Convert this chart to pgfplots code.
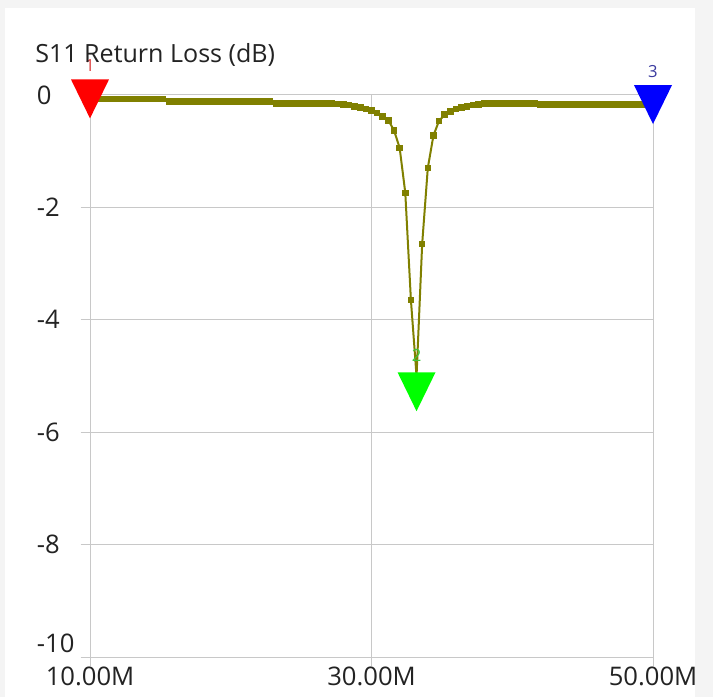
\documentclass[border=0pt]{standalone}
\usepackage{pgfplots}
\pgfplotsset{compat=1.18}
\usepackage{fontspec}
\setmainfont{Open Sans}
\definecolor{olivec}{RGB}{128,128,0}
\definecolor{gridc}{RGB}{200,200,200}
\definecolor{bgc}{RGB}{244,244,244}
\definecolor{txt}{RGB}{35,35,35}
\definecolor{lab1}{RGB}{220,60,60}
\definecolor{lab3}{RGB}{60,60,160}
\definecolor{lab2}{RGB}{60,200,60}
\pgfdeclareplotmark{dtri}{%
 \pgfpathmoveto{\pgfqpoint{-14.25pt}{14.6pt}}%
 \pgfpathlineto{\pgfqpoint{14.25pt}{14.6pt}}%
 \pgfpathlineto{\pgfqpoint{0pt}{-14.6pt}}%
 \pgfpathclose\pgfusepathqfill}
\pgfplotstableread{
x y
10.0 -0.07
10.4 -0.07
10.8 -0.07
11.2 -0.07
11.6 -0.07
12.0 -0.07
12.4 -0.07
12.8 -0.07
13.2 -0.07
13.6 -0.07
14.0 -0.07
14.4 -0.07
14.8 -0.07
15.2 -0.07
15.6 -0.12
16.0 -0.12
16.4 -0.12
16.8 -0.12
17.2 -0.12
17.6 -0.12
18.0 -0.12
18.4 -0.12
18.8 -0.12
19.2 -0.12
19.6 -0.12
20.0 -0.12
20.4 -0.12
20.8 -0.12
21.2 -0.12
21.6 -0.12
22.0 -0.12
22.4 -0.12
22.8 -0.12
23.2 -0.15
23.6 -0.15
24.0 -0.15
24.4 -0.15
24.8 -0.15
25.2 -0.15
25.6 -0.15
26.0 -0.15
26.4 -0.15
26.8 -0.15
27.2 -0.15
27.6 -0.16
28.0 -0.17
28.4 -0.18
28.8 -0.20
29.2 -0.22
29.6 -0.25
30.0 -0.28
30.4 -0.32
30.8 -0.38
31.2 -0.45
31.6 -0.63
32.0 -0.94
32.4 -1.74
32.8 -3.65
33.2 -5.00
33.6 -2.65
34.0 -1.30
34.4 -0.72
34.8 -0.46
35.2 -0.35
35.6 -0.29
36.0 -0.25
36.4 -0.22
36.8 -0.20
37.2 -0.18
37.6 -0.17
38.0 -0.15
38.4 -0.15
38.8 -0.15
39.2 -0.15
39.6 -0.15
40.0 -0.15
40.4 -0.15
40.8 -0.15
41.2 -0.15
41.6 -0.15
42.0 -0.17
42.4 -0.17
42.8 -0.17
43.2 -0.17
43.6 -0.17
44.0 -0.17
44.4 -0.17
44.8 -0.17
45.2 -0.17
45.6 -0.17
46.0 -0.17
46.4 -0.17
46.8 -0.17
47.2 -0.17
47.6 -0.17
48.0 -0.17
48.4 -0.17
48.8 -0.17
49.2 -0.17
49.6 -0.17
50.0 -0.17
}\sone
\begin{document}
\begin{tikzpicture}
\useasboundingbox (-67.5pt,-30pt) rectangle (467.25pt,492.75pt);
\fill[bgc] (-67.5pt,-30pt) rectangle (467.25pt,492.75pt);
\fill[white] (-63.75pt,-30pt) rectangle (453.75pt,486.75pt);
\begin{axis}[
 at={(0,0)}, anchor=south west,
 scale only axis, width=422.25pt, height=421.5pt,
 xmin=10, xmax=50, ymin=-10, ymax=0,
 xtick={10,30,50}, xticklabels={10.00M,30.00M,50.00M},
 ytick={-8,-6,-4,-2,0}, yticklabels={-8,-6,-4,-2,0},
 extra y ticks={-10}, extra y tick labels={-10},
 extra y tick style={grid=major, yticklabel style={yshift=10.5pt}},
 grid=major, grid style={gridc, line width=0.75pt},
 axis line style={draw=none},
 tick style={gridc, line width=0.75pt},
 tick align=outside, major tick length=7pt,
 xtick pos=left, ytick pos=left,
 ticklabel style={font=\fontsize{19.2}{21}\selectfont, text=txt, inner sep=0pt},
 yticklabel style={anchor=west, xshift=-33pt},
 xticklabel style={anchor=north, yshift=-0.5pt},
 clip=false,
]
\addplot[olivec, line width=1.5pt, mark=square*, mark size=1.7pt, mark options={solid}] table[x=x,y=y] {\sone};
\addplot[only marks, mark=dtri, color=red] coordinates {(10,-0.07)};
\addplot[only marks, mark=dtri, color=blue] coordinates {(50,-0.17)};
\addplot[only marks, mark=dtri, color=green] coordinates {(33.2,-5.28)};
\node[lab1, font=\fontsize{12.5}{14}\selectfont, yshift=25pt] at (axis cs:10,-0.07) {1};
\node[lab3, font=\fontsize{12.5}{14}\selectfont, yshift=25pt] at (axis cs:50,-0.17) {3};
\node[lab2, font=\fontsize{12.5}{14}\selectfont, yshift=27pt] at (axis cs:33.2,-5.28) {2};
\end{axis}
\node[anchor=base west, font=\fontsize{18.8}{21}\selectfont, text=txt, inner sep=0pt] at (-41.25pt,445.5pt) {S11 Return Loss (dB)};
\fill[bgc] (453.75pt,-30pt) rectangle (467.25pt,492.75pt);
\end{tikzpicture}
\end{document}
